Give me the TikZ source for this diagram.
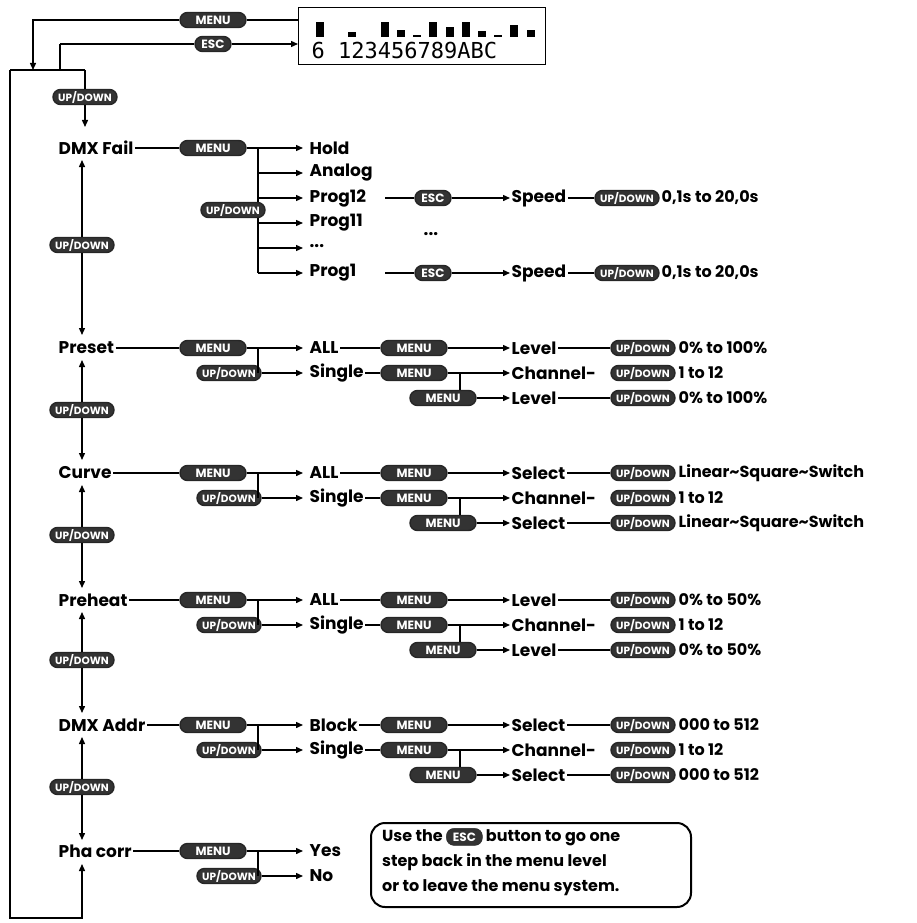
\documentclass[tikz,border=0pt]{standalone}
\usepackage{fontspec}
\setmainfont{Poppins}
\newfontfamily\lcdfont{DejaVu Sans Mono}[Scale=1]
\usetikzlibrary{arrows.meta}
\begin{document}
\begin{tikzpicture}[x=1pt,y=-1pt,line width=1.4pt,
  >={Triangle[length=7pt,width=6pt]},
  pill/.style={draw=black!85,fill=black!80,text=white,rounded corners=7.5pt,minimum height=15pt,inner sep=0pt,font=\fontsize{12}{12}\selectfont\bfseries},
  menu/.style={pill,minimum width=66pt},
  ud/.style={pill,minimum width=64pt,font=\fontsize{10.5}{11}\selectfont\bfseries},
  esc/.style={pill,minimum width=36pt},
  lab/.style={anchor=west,inner sep=1pt,font=\fontsize{17}{18}\selectfont\bfseries},
  val/.style={anchor=west,inner sep=1pt,font=\fontsize{16}{18}\selectfont\bfseries}]
\useasboundingbox (0,0) rectangle (917,923);
% LCD
\node[draw,line width=1.4pt,minimum width=247pt,minimum height=57pt,anchor=north west] (lcd) at (298,7) {};
\foreach \c/\h in {0/15,2/5,4/15,5/7,6/2,7/15,8/10,9/15,10/6,11/2,12/12,13/7}
  \fill (320+16.2*\c-4,37-\h) rectangle ++(8,\h);
\node[anchor=west,inner sep=0pt,font=\fontsize{22}{22}\selectfont\lcdfont] (lcdtxt) at (311,50) {6 123456789ABC};
\node[menu] (m0) at (213,20) {MENU};
\node[esc] (e0) at (213,44) {ESC};
\coordinate (a) at (33,20); \coordinate (b) at (60,44);
\draw[->] (lcd.west |- m0) -- (m0) (m0) -- (a) -- (33,70);
\draw[->] (b) -- (e0) -- (lcd.west |- e0);
\draw (b) -- (60,70);
% menu items
\node[lab] (dmx) at (57,148) {DMX Fail};
\node[lab] (pre) at (57,348) {Preset};
\node[lab] (cur) at (57,473) {Curve};
\node[lab] (pht) at (57,600) {Preheat};
\node[lab] (adr) at (57,725) {DMX Addr};
\node[lab] (pha) at (57,851) {Pha corr};
\draw (10,70) -- (85,70);
\node[ud] (u0) at (85,97) {UP/DOWN};
\draw[->] (85,70) -- (u0) -- (85,127);
\draw[->] (10,70) -- (10,918) -- (82,918) -- (82,864);
\foreach \t/\bt/\my in {160/335/245,360/460/410,485/588/535,612/713/660,737/840/787}{
  \node[ud] (u\my) at (82,\my) {UP/DOWN};
  \draw[->] (u\my) -- (82,\t);
  \draw[->] (u\my) -- (82,\bt);
}
% DMX fail
\node[menu] (dm) at (213,148) {MENU};
\draw (dmx) -- (dm);
\draw[->] (dm) -- (303,148);
\draw (258,148) -- (258,273);
\foreach \y in {173,198,223,248,273} \draw[->] (258,\y) -- (303,\y);
\node[ud] (du) at (233,210) {UP/DOWN};
\node[lab] (hold) at (308,148) {Hold};
\node[lab] (ana) at (308,173) {Analog};
\node[lab] (p12) at (308,198) {Prog12};
\node[lab] (p11) at (308,223) {Prog11};
\node[lab] (pd) at (308,246) {...};
\node[lab] (p1) at (308,273) {Prog1};
\node[lab] (dots) at (422,234) {...};
\foreach \n/\y in {p12/198,p1/273}{
  \node[esc] (e\n) at (433,\y) {ESC};
  \node[lab] (s\n) at (510,\y) {Speed};
  \node[ud] (v\n) at (627,\y) {UP/DOWN};
  \node[val] (t\n) at (660,\y) {0,1s to 20,0s};
  \draw (385,\y) -- (e\n);
  \draw[->] (e\n) -- (s\n);
  \draw (s\n) -- (v\n);
}
% generic submenu
\foreach \n/\y/\A/\L/\V/\LL/\VV in {
  pre/348/ALL/Level/0\% to 100\%/Level/0\% to 100\%,
  cur/473/ALL/Select/Linear\textasciitilde Square\textasciitilde Switch/Select/Linear\textasciitilde Square\textasciitilde Switch,
  pht/600/ALL/Level/0\% to 50\%/Level/0\% to 50\%,
  adr/725/Block/Select/000 to 512/Select/000 to 512}{
  \pgfmathsetmacro\yy{\y+25}\pgfmathsetmacro\yyy{\y+50}
  \node[menu] (m1\n) at (213,\y) {MENU};
  \node[ud] (u1\n) at (229,\yy) {UP/DOWN};
  \draw (\n) -- (m1\n);
  \draw[->] (m1\n) -- (303,\y);
  \draw (258,\y) -- (258,\yy);
  \draw[->] (u1\n) -- (303,\yy);
  \node[lab] (a\n) at (308,\y) {\A};
  \node[lab] (s\n) at (308,\yy) {Single};
  \node[menu] (m2\n) at (414,\y) {MENU};
  \node[menu] (m3\n) at (414,\yy) {MENU};
  \node[menu] (m4\n) at (443,\yyy) {MENU};
  \draw (a\n) -- (m2\n); \draw (s\n) -- (m3\n);
  \node[lab] (l\n) at (510,\y) {\L};
  \node[lab] (c\n) at (510,\yy) {Channel-};
  \node[lab] (k\n) at (510,\yyy) {\LL};
  \draw[->] (m2\n) -- (l\n); \draw[->] (m3\n) -- (c\n); \draw[->] (m4\n) -- (k\n);
  \draw (460,\yy) -- (m4\n.north -| 460,0);
  \node[ud] (v1\n) at (643,\y) {UP/DOWN};
  \node[ud] (v2\n) at (643,\yy) {UP/DOWN};
  \node[ud] (v3\n) at (643,\yyy) {UP/DOWN};
  \draw (l\n) -- (v1\n); \draw (k\n) -- (v3\n);
  \node[val] at (677,\y) {\V};
  \node[val] at (677,\yy) {1 to 12};
  \node[val] at (677,\yyy) {\VV};
}
% Pha corr
\node[menu] (mp) at (213,851) {MENU};
\node[ud] (up) at (229,876) {UP/DOWN};
\draw (pha) -- (mp); \draw[->] (mp) -- (303,851);
\draw (258,851) -- (258,876); \draw[->] (up) -- (303,876);
\node[lab] (yes) at (308,851) {Yes};
\node[lab] (no) at (308,876) {No};
% note
\node[draw,line width=2pt,rounded corners=14pt,anchor=north west,minimum width=320pt,minimum height=84pt] (note) at (370,822) {};
\node[anchor=north west,align=left,inner sep=0pt,font=\fontsize{16}{25}\selectfont\bfseries] (notetxt) at (382,828)
 {Use the \tikz[baseline=(ne.base)]\node[esc,minimum width=36pt,minimum height=17pt,font=\fontsize{12}{12}\selectfont\bfseries] (ne) {ESC}; button to go one\\step back in the menu level\\or to leave the menu system.};
\end{tikzpicture}
\end{document}
